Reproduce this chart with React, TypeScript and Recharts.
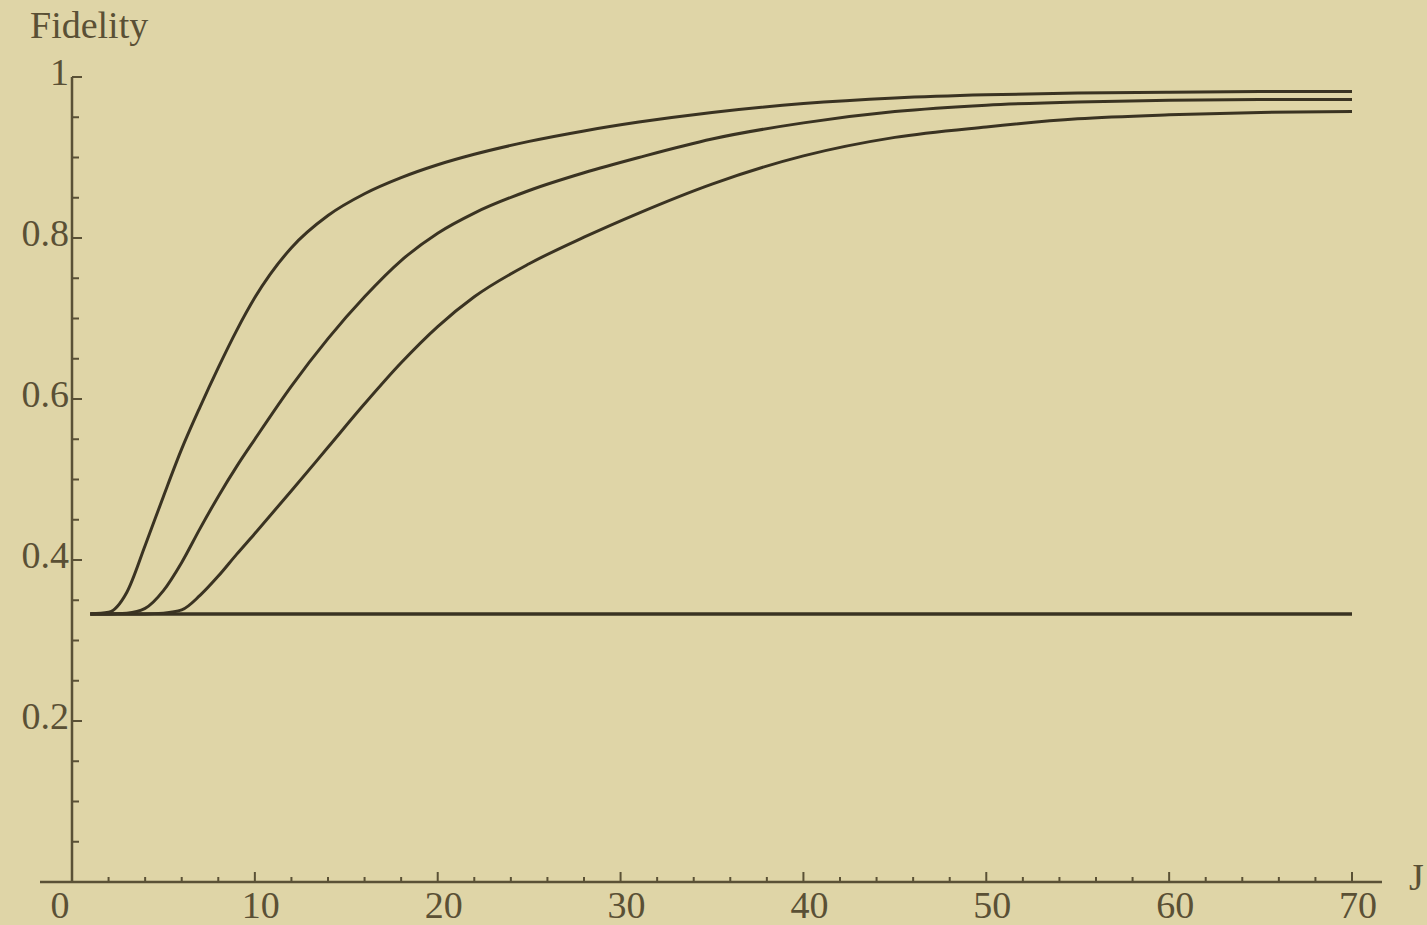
import { LineChart, Line, XAxis, YAxis, ReferenceLine } from 'recharts';

// values
const J_VALUES = [1, 2, 3, 4, 5, 6, 7, 8, 9, 10, 12, 14, 16, 18, 20, 22, 25, 28, 31, 35, 40, 45, 50, 55, 60, 65, 70];
const CURVE_A = [0.333, 0.335, 0.36, 0.418, 0.479, 0.538, 0.59, 0.639, 0.685, 0.726, 0.788, 0.828, 0.855, 0.875, 0.891, 0.904, 0.92, 0.933, 0.944, 0.956, 0.967, 0.974, 0.978, 0.98, 0.981, 0.982, 0.982];
const CURVE_B = [0.333, 0.333, 0.334, 0.34, 0.362, 0.397, 0.439, 0.479, 0.516, 0.55, 0.616, 0.675, 0.727, 0.772, 0.806, 0.831, 0.859, 0.881, 0.9, 0.923, 0.943, 0.957, 0.965, 0.969, 0.971, 0.972, 0.972];
const CURVE_C = [0.333, 0.333, 0.333, 0.333, 0.334, 0.338, 0.356, 0.38, 0.407, 0.433, 0.486, 0.54, 0.594, 0.645, 0.69, 0.727, 0.768, 0.801, 0.831, 0.867, 0.902, 0.925, 0.938, 0.948, 0.953, 0.956, 0.957];
const BASELINE = [
  { J: 1, F: 0.333 },
  { J: 70, F: 0.333 },
];

const X_TICKS = [0, 2, 4, 6, 8, 10, 12, 14, 16, 18, 20, 22, 24, 26, 28, 30, 32, 34, 36, 38, 40, 42, 44, 46, 48, 50, 52, 54, 56, 58, 60, 62, 64, 66, 68, 70];
const X_LABELS = [0, 10, 20, 30, 40, 50, 60, 70];
const Y_TICKS = [0.05, 0.1, 0.15, 0.2, 0.25, 0.3, 0.35, 0.4, 0.45, 0.5, 0.55, 0.6, 0.65, 0.7, 0.75, 0.8, 0.85, 0.9, 0.95, 1];
const Y_LABELS: Record<string, string> = { '0.2': '0.2', '0.4': '0.4', '0.6': '0.6', '0.8': '0.8', '1': '1' };

const BG = '#dfd5a7';
const INK = '#3a3322';
const AXIS = '#5a5136';
const TEXT = '#5a5035';
const FONT = '"Liberation Serif", "DejaVu Serif", serif';

const rows = J_VALUES.map((J, i) => ({ J, a: CURVE_A[i], b: CURVE_B[i], c: CURVE_C[i] }));

function XTick(props: any) {
  const { x, y, payload } = props;
  const v = payload.value;
  const major = X_LABELS.includes(v);
  return (
    <g>
      {v !== 0 && <line x1={x} x2={x} y1={y} y2={y - (major ? 10 : 5)} stroke={AXIS} strokeWidth={2} />}
      {major && (
        <text x={x + (v === 0 ? -12 : 6)} y={y + 36} textAnchor="middle" fontFamily={FONT} fontSize={38} fill={TEXT}>
          {v}
        </text>
      )}
    </g>
  );
}

function YTick(props: any) {
  const { x, y, payload } = props;
  const label = Y_LABELS[String(payload.value)];
  return (
    <g>
      <line x1={x} x2={x + (label ? 10 : 7)} y1={y} y2={y} stroke={AXIS} strokeWidth={2} />
      {label && (
        <text x={x - 3} y={y + 8} textAnchor="end" fontFamily={FONT} fontSize={38} fill={TEXT}>
          {label}
        </text>
      )}
    </g>
  );
}

export default function App() {
  return (
    <div style={{ position: 'absolute', left: 0, top: 0, width: 1427, height: 925, background: BG, overflow: 'hidden' }}>
      <LineChart width={1427} height={925} data={rows} margin={{ top: 77, right: 75, bottom: 3, left: 12 }}>
        <XAxis
          dataKey="J"
          type="number"
          domain={[0, 70]}
          ticks={X_TICKS}
          interval={0}
          tick={<XTick />}
          tickLine={false}
          tickSize={0}
          tickMargin={0}
          height={40}
          axisLine={false}
        />
        <YAxis
          type="number"
          domain={[0, 1]}
          ticks={Y_TICKS}
          interval={0}
          tick={<YTick />}
          tickLine={false}
          tickSize={0}
          tickMargin={0}
          width={60}
          axisLine={{ stroke: AXIS, strokeWidth: 2.5 }}
        />
        <ReferenceLine
          segment={[{ x: -1.75, y: 0 }, { x: 71.64, y: 0 }]}
          ifOverflow="visible"
          stroke={AXIS}
          strokeWidth={2.5}
        />
        <Line data={BASELINE} dataKey="F" type="linear" stroke={INK} strokeWidth={3.5} dot={false} isAnimationActive={false} />
        <Line dataKey="c" type="monotone" stroke={INK} strokeWidth={3} dot={false} isAnimationActive={false} />
        <Line dataKey="b" type="monotone" stroke={INK} strokeWidth={3} dot={false} isAnimationActive={false} />
        <Line dataKey="a" type="monotone" stroke={INK} strokeWidth={3} dot={false} isAnimationActive={false} />
      </LineChart>
      <div style={{ position: 'absolute', left: 30, top: 6, fontFamily: FONT, fontSize: 38, lineHeight: 1, color: TEXT }}>Fidelity</div>
      <div style={{ position: 'absolute', left: 1409, top: 858, fontFamily: FONT, fontSize: 38, lineHeight: 1, color: TEXT }}>J</div>
    </div>
  );
}
